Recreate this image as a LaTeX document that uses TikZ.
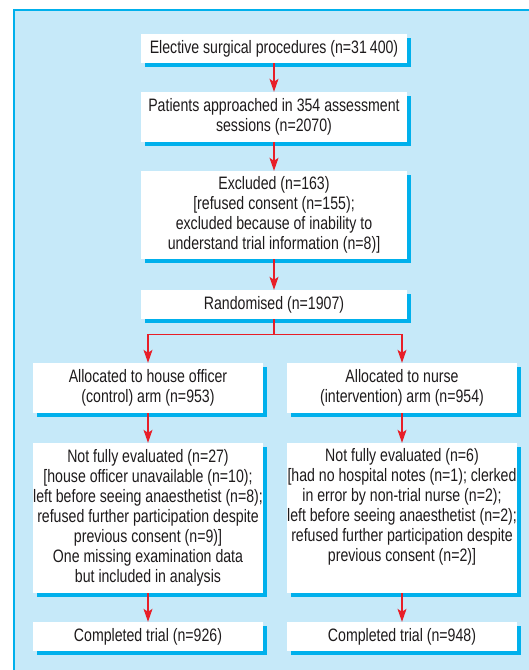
\documentclass[tikz,border=0pt]{standalone}
\usepackage{fontspec}
\setmainfont[FakeStretch=0.785]{Liberation Sans}
\usetikzlibrary{arrows.meta,shadows}
\definecolor{bgblue}{RGB}{198,233,249}
\definecolor{cyanline}{RGB}{0,176,236}
\definecolor{arrred}{RGB}{232,30,40}
\definecolor{txt}{RGB}{30,27,28}
\tikzset{
  box/.style={fill=white, inner sep=0pt, align=center, text=txt,
    font=\fontsize{18}{20}\selectfont,
    general shadow={shadow xshift=3.5pt, shadow yshift=-3.5pt, fill=cyanline}},
  wide/.style={box, minimum width=266pt},
  half/.style={box, minimum width=230pt},
  arr/.style={draw=arrred, line width=1.2pt, -{Stealth[length=13pt,width=9pt,inset=3pt]}}
}
\begin{document}
\begin{tikzpicture}[x=1pt,y=-1pt]
\useasboundingbox (0,0) rectangle (528,670);
\fill[bgblue] (14,10) rectangle (530,672);
\draw[cyanline, line width=2pt] (14,672) -- (14,10) -- (530,10);

\node[wide, minimum height=29pt] (b1) at (274,48.5) {Elective surgical procedures (n=31\,400)};
\node[wide, minimum height=50pt] (b2) at (274,117) {Patients approached in 354 assessment\\ sessions (n=2070)};
\node[wide, minimum height=88pt] (b3) at (274,215) {Excluded (n=163)\\ {[refused consent (n=155);}\\ excluded because of inability to\\ understand trial information (n=8)]};
\node[wide, minimum height=29pt] (b4) at (274,304.5) {Randomised (n=1907)};

\node[half, minimum height=50pt] (b5l) at (148,388) {Allocated to house officer\\ (control) arm (n=953)};
\node[half, minimum height=50pt] (b5r) at (402,388) {Allocated to nurse\\ (intervention) arm (n=954)};

\node[half, minimum height=150pt] (b6l) at (148,518) {Not fully evaluated (n=27)\\ {[house officer unavailable (n=10);}\\ left before seeing anaesthetist (n=8);\\ refused further participation despite\\ previous consent (n=9)]\\ One missing examination data\\ but included in analysis};
\node[half, minimum height=150pt] (b6r) at (402,518) {Not fully evaluated (n=6)\\ {[had no hospital notes (n=1); clerked}\\ in error by non-trial nurse (n=2);\\ left before seeing anaesthetist (n=2);\\ refused further participation despite\\ previous consent (n=2)]\\ \strut};

\node[half, minimum height=29pt] (b7l) at (148,636.5) {Completed trial (n=926)};
\node[half, minimum height=29pt] (b7r) at (402,636.5) {Completed trial (n=948)};

\draw[arr] (b1.south) -- (b2.north);
\draw[arr] (b2.south) -- (b3.north);
\draw[arr] (b3.south) -- (b4.north);
\draw[arr] (b4.south) -- ++(0,15) -| (b5l.north);
\draw[arr] (b4.south) -- ++(0,15) -| (b5r.north);
\draw[arr] (b5l.south) -- (b6l.north);
\draw[arr] (b5r.south) -- (b6r.north);
\draw[arr] (b6l.south) -- (b7l.north);
\draw[arr] (b6r.south) -- (b7r.north);
\end{tikzpicture}
\end{document}
